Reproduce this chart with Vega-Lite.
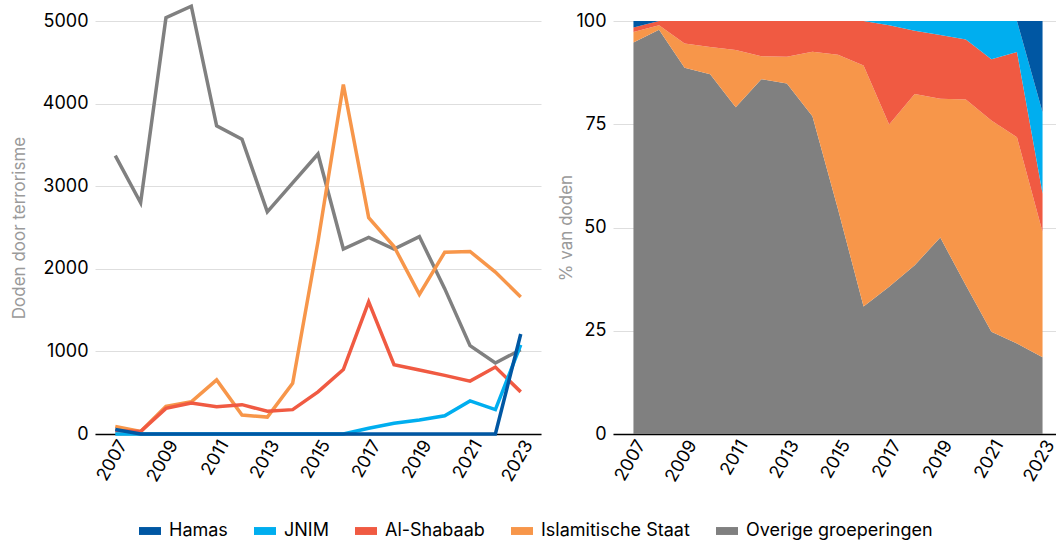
{
  "$schema": "https://vega.github.io/schema/vega-lite/v6.json",
  "padding": {"left": 10, "top": -1, "right": 0, "bottom": 8},
  "bounds": "flush",
  "spacing": 72,
  "datasets": {
    "doden": [
      {"jaar": 2007, "groep": "Overige groeperingen", "doden": 3370},
      {"jaar": 2008, "groep": "Overige groeperingen", "doden": 2800},
      {"jaar": 2009, "groep": "Overige groeperingen", "doden": 5040},
      {"jaar": 2010, "groep": "Overige groeperingen", "doden": 5180},
      {"jaar": 2011, "groep": "Overige groeperingen", "doden": 3730},
      {"jaar": 2012, "groep": "Overige groeperingen", "doden": 3570},
      {"jaar": 2013, "groep": "Overige groeperingen", "doden": 2690},
      {"jaar": 2014, "groep": "Overige groeperingen", "doden": 3040},
      {"jaar": 2015, "groep": "Overige groeperingen", "doden": 3390},
      {"jaar": 2016, "groep": "Overige groeperingen", "doden": 2240},
      {"jaar": 2017, "groep": "Overige groeperingen", "doden": 2380},
      {"jaar": 2018, "groep": "Overige groeperingen", "doden": 2240},
      {"jaar": 2019, "groep": "Overige groeperingen", "doden": 2390},
      {"jaar": 2020, "groep": "Overige groeperingen", "doden": 1760},
      {"jaar": 2021, "groep": "Overige groeperingen", "doden": 1070},
      {"jaar": 2022, "groep": "Overige groeperingen", "doden": 860},
      {"jaar": 2023, "groep": "Overige groeperingen", "doden": 1020},
      {"jaar": 2007, "groep": "Islamitische Staat", "doden": 90},
      {"jaar": 2008, "groep": "Islamitische Staat", "doden": 30},
      {"jaar": 2009, "groep": "Islamitische Staat", "doden": 335},
      {"jaar": 2010, "groep": "Islamitische Staat", "doden": 390},
      {"jaar": 2011, "groep": "Islamitische Staat", "doden": 655},
      {"jaar": 2012, "groep": "Islamitische Staat", "doden": 230},
      {"jaar": 2013, "groep": "Islamitische Staat", "doden": 205},
      {"jaar": 2014, "groep": "Islamitische Staat", "doden": 615},
      {"jaar": 2015, "groep": "Islamitische Staat", "doden": 2330},
      {"jaar": 2016, "groep": "Islamitische Staat", "doden": 4230},
      {"jaar": 2017, "groep": "Islamitische Staat", "doden": 2620},
      {"jaar": 2018, "groep": "Islamitische Staat", "doden": 2270},
      {"jaar": 2019, "groep": "Islamitische Staat", "doden": 1690},
      {"jaar": 2020, "groep": "Islamitische Staat", "doden": 2200},
      {"jaar": 2021, "groep": "Islamitische Staat", "doden": 2210},
      {"jaar": 2022, "groep": "Islamitische Staat", "doden": 1960},
      {"jaar": 2023, "groep": "Islamitische Staat", "doden": 1660},
      {"jaar": 2007, "groep": "Al-Shabaab", "doden": 40},
      {"jaar": 2008, "groep": "Al-Shabaab", "doden": 30},
      {"jaar": 2009, "groep": "Al-Shabaab", "doden": 310},
      {"jaar": 2010, "groep": "Al-Shabaab", "doden": 375},
      {"jaar": 2011, "groep": "Al-Shabaab", "doden": 330},
      {"jaar": 2012, "groep": "Al-Shabaab", "doden": 355},
      {"jaar": 2013, "groep": "Al-Shabaab", "doden": 275},
      {"jaar": 2014, "groep": "Al-Shabaab", "doden": 295},
      {"jaar": 2015, "groep": "Al-Shabaab", "doden": 510},
      {"jaar": 2016, "groep": "Al-Shabaab", "doden": 780},
      {"jaar": 2017, "groep": "Al-Shabaab", "doden": 1600},
      {"jaar": 2018, "groep": "Al-Shabaab", "doden": 840},
      {"jaar": 2019, "groep": "Al-Shabaab", "doden": 775},
      {"jaar": 2020, "groep": "Al-Shabaab", "doden": 710},
      {"jaar": 2021, "groep": "Al-Shabaab", "doden": 640},
      {"jaar": 2022, "groep": "Al-Shabaab", "doden": 810},
      {"jaar": 2023, "groep": "Al-Shabaab", "doden": 510},
      {"jaar": 2007, "groep": "JNIM", "doden": 0},
      {"jaar": 2008, "groep": "JNIM", "doden": 0},
      {"jaar": 2009, "groep": "JNIM", "doden": 0},
      {"jaar": 2010, "groep": "JNIM", "doden": 0},
      {"jaar": 2011, "groep": "JNIM", "doden": 0},
      {"jaar": 2012, "groep": "JNIM", "doden": 0},
      {"jaar": 2013, "groep": "JNIM", "doden": 0},
      {"jaar": 2014, "groep": "JNIM", "doden": 0},
      {"jaar": 2015, "groep": "JNIM", "doden": 0},
      {"jaar": 2016, "groep": "JNIM", "doden": 0},
      {"jaar": 2017, "groep": "JNIM", "doden": 70},
      {"jaar": 2018, "groep": "JNIM", "doden": 130},
      {"jaar": 2019, "groep": "JNIM", "doden": 170},
      {"jaar": 2020, "groep": "JNIM", "doden": 220},
      {"jaar": 2021, "groep": "JNIM", "doden": 400},
      {"jaar": 2022, "groep": "JNIM", "doden": 295},
      {"jaar": 2023, "groep": "JNIM", "doden": 1080},
      {"jaar": 2007, "groep": "Hamas", "doden": 55},
      {"jaar": 2008, "groep": "Hamas", "doden": 0},
      {"jaar": 2009, "groep": "Hamas", "doden": 0},
      {"jaar": 2010, "groep": "Hamas", "doden": 0},
      {"jaar": 2011, "groep": "Hamas", "doden": 0},
      {"jaar": 2012, "groep": "Hamas", "doden": 0},
      {"jaar": 2013, "groep": "Hamas", "doden": 0},
      {"jaar": 2014, "groep": "Hamas", "doden": 0},
      {"jaar": 2015, "groep": "Hamas", "doden": 0},
      {"jaar": 2016, "groep": "Hamas", "doden": 0},
      {"jaar": 2017, "groep": "Hamas", "doden": 0},
      {"jaar": 2018, "groep": "Hamas", "doden": 0},
      {"jaar": 2019, "groep": "Hamas", "doden": 0},
      {"jaar": 2020, "groep": "Hamas", "doden": 0},
      {"jaar": 2021, "groep": "Hamas", "doden": 0},
      {"jaar": 2022, "groep": "Hamas", "doden": 0},
      {"jaar": 2023, "groep": "Hamas", "doden": 1210}
    ]
  },
  "data": {"name": "doden"},
  "config": {
    "font": "Inter",
    "view": {"stroke": null},
    "axis": {
      "labelFont": "Inter",
      "labelFontSize": 18,
      "labelColor": "#000000",
      "titleFont": "Inter",
      "titleFontSize": 17,
      "titleFontWeight": "normal",
      "titleColor": "#9a9a9a",
      "gridColor": "#dedede",
      "gridWidth": 1,
      "domain": false,
      "ticks": false,
      "labelPadding": 7,
      "titlePadding": 14
    },
    "axisX": {
      "domain": true,
      "domainColor": "#000000",
      "domainWidth": 1.5,
      "grid": false,
      "labelAngle": -60,
      "labelFontSize": 18,
      "labelBaseline": "top",
      "labelPadding": 3
    },
    "legend": {
      "orient": "none",
      "legendX": 44,
      "legendY": 499,
      "direction": "horizontal",
      "labelFont": "Inter",
      "labelFontSize": 18,
      "labelColor": "#000000",
      "symbolType": "M-1,-0.36H1V0.36H-1Z",
      "symbolSize": 484,
      "symbolStrokeWidth": 0,
      "labelOffset": 8,
      "columnPadding": 26,
      "labelLimit": 400
    }
  },
  "resolve": {"scale": {"color": "shared"}},
  "hconcat": [
    {
      "width": 446,
      "height": 413,
      "mark": {"type": "line", "strokeWidth": 3.5, "clip": false},
      "encoding": {
        "x": {
          "field": "jaar",
          "type": "ordinal",
          "scale": {"type": "point", "padding": 0.8},
          "axis": {"title": null, "values": [2007, 2009, 2011, 2013, 2015, 2017, 2019, 2021, 2023]}
        },
        "y": {
          "field": "doden",
          "type": "quantitative",
          "scale": {"domain": [0, 5000], "nice": false},
          "axis": {"title": "Doden door terrorisme", "values": [0, 1000, 2000, 3000, 4000, 5000], "format": "d"}
        },
        "color": {
          "field": "groep",
          "type": "nominal",
          "scale": {
            "domain": ["Hamas", "JNIM", "Al-Shabaab", "Islamitische Staat", "Overige groeperingen"],
            "range": ["#0057A3", "#00AEEF", "#F05A42", "#F7964A", "#808080"]
          },
          "legend": {
            "title": null,
            "encode": {"symbols": {"update": {"fill": {"scale": "color", "field": "value"}, "stroke": {"value": "transparent"}, "opacity": {"value": 1}}}}
          }
        }
      }
    },
    {
      "width": 450,
      "height": 413,
      "transform": [
        {"calculate": "indexof(['Overige groeperingen', 'Islamitische Staat', 'Al-Shabaab', 'JNIM', 'Hamas'], datum.groep)", "as": "volgorde"}
      ],
      "mark": {"type": "area", "clip": true},
      "encoding": {
        "x": {
          "field": "jaar",
          "type": "ordinal",
          "scale": {"type": "point", "padding": 0.8},
          "axis": {"title": null, "values": [2007, 2009, 2011, 2013, 2015, 2017, 2019, 2021, 2023]}
        },
        "y": {
          "field": "doden",
          "type": "quantitative",
          "stack": "normalize",
          "axis": {"title": "% van doden", "titlePadding": 0, "values": [0, 0.25, 0.5, 0.75, 1], "labelExpr": "format(datum.value * 100, 'd')"}
        },
        "order": {"field": "volgorde", "type": "quantitative", "sort": "ascending"},
        "color": {
          "field": "groep",
          "type": "nominal",
          "scale": {
            "domain": ["Hamas", "JNIM", "Al-Shabaab", "Islamitische Staat", "Overige groeperingen"],
            "range": ["#0057A3", "#00AEEF", "#F05A42", "#F7964A", "#808080"]
          },
          "legend": {
            "title": null,
            "encode": {"symbols": {"update": {"fill": {"scale": "color", "field": "value"}, "stroke": {"value": "transparent"}, "opacity": {"value": 1}}}}
          }
        }
      }
    }
  ]
}
